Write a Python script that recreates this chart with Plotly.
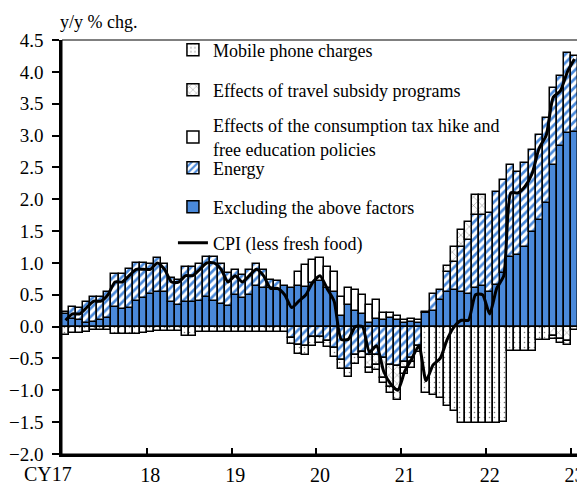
import plotly.graph_objects as go

# Monthly data, Jan 2017 .. Jan 2023 (73 months); x = month index
month_idx = list(range(73))

excluding = [0.20, 0.12, 0.10, 0.05, 0.08, 0.10, 0.13, 0.31, 0.28, 0.30, 0.40, 0.45,
             0.52, 0.55, 0.55, 0.38, 0.34, 0.39, 0.39, 0.41, 0.47, 0.41, 0.36, 0.33,
             0.50, 0.45, 0.50, 0.63, 0.60, 0.60, 0.58, 0.64, 0.60, 0.64, 0.62, 0.68,
             0.72, 0.60, 0.55, 0.16, 0.34, 0.25, 0.20, 0.05, 0.12, 0.10, 0.13, 0.10,
             0.06, 0.08, 0.06, 0.21, 0.24, 0.42, 0.55, 0.57, 0.55, 0.52, 0.60, 0.63,
             0.55, 0.65, 0.84, 1.10, 1.12, 1.25, 1.49, 1.67, 1.94, 2.54, 2.83, 3.04,
             3.05]

energy = [0.03, 0.19, 0.19, 0.34, 0.38, 0.36, 0.42, 0.52, 0.55, 0.60, 0.60, 0.55,
          0.46, 0.52, 0.43, 0.38, 0.39, 0.55, 0.55, 0.58, 0.63, 0.69, 0.63, 0.51,
          0.39, 0.36, 0.39, 0.36, 0.29, 0.13, 0.13, 0.00, -0.18, -0.29, -0.30, -0.16,
          -0.16, -0.22, -0.34, -0.53, -0.66, -0.45, -0.40, -0.45, -0.45, -0.50, -0.60, -0.62,
          -0.55, -0.50, -0.30, 0.02, 0.28, 0.16, 0.30, 0.45, 0.70, 0.84, 1.15, 1.13,
          1.23, 1.47, 1.46, 1.44, 1.31, 1.32, 1.28, 1.34, 1.33, 1.20, 1.10, 1.25,
          1.20]

tax_education = [0, 0, 0, 0, 0, 0, 0, 0, 0, 0, 0, 0,
                 0, 0, 0, 0, 0, 0, 0, 0, 0, 0, 0, 0,
                 0, 0, 0, 0, 0, 0, 0, 0, 0, 0.21, 0.35, 0.36,
                 0.35, 0.34, 0.31, 0.31, 0.26, 0.33, 0.30, 0.29, 0.30, 0.12, 0.08, 0.06,
                 0.04, 0.04, 0.04, 0, 0, 0, 0, 0, 0, 0, 0, 0,
                 0, 0, 0, 0, 0, 0, 0, 0, 0, 0, 0, 0,
                 0]

travel = [0, 0, 0, 0, 0, 0, 0, 0, 0, 0, 0, 0,
          0, 0, 0, 0, 0, 0, 0, 0, 0, 0, 0, 0,
          0, 0, 0, 0, 0, 0, 0, 0, 0, 0, 0, 0,
          0, 0, 0, 0, 0, 0, 0, -0.20, -0.15, -0.30, -0.35, -0.38,
          -0.10, -0.05, 0, 0, 0, 0, 0.10, 0.23, 0.26, 0.29, 0.31, 0.31,
          0, 0, 0, 0, 0, 0, 0, 0, 0, -0.15, -0.20, -0.22,
          -0.05]

mobile = [-0.13, -0.10, -0.10, -0.08, -0.06, -0.05, -0.05, -0.12, -0.12, -0.12, -0.12, -0.10,
          -0.08, -0.07, -0.07, -0.07, -0.07, -0.14, -0.14, -0.08, -0.08, -0.08, -0.08, -0.08,
          -0.08, -0.08, -0.08, -0.08, -0.08, -0.08, -0.08, -0.08, -0.10, -0.14, -0.14, -0.14,
          -0.10, -0.10, -0.14, -0.13, -0.13, -0.13, -0.10, -0.08, -0.08, -0.09, -0.10, -0.15,
          -0.10, -0.10, -0.10, -1.05, -1.08, -1.12, -1.25, -1.33, -1.52, -1.52, -1.52, -1.52,
          -1.52, -1.52, -1.50, -0.39, -0.39, -0.39, -0.39, -0.21, -0.21, -0.05, -0.05, -0.07,
          0]

cpi = [0.1, 0.2, 0.2, 0.3, 0.4, 0.4, 0.5, 0.7, 0.7, 0.8, 0.9, 0.9,
       0.9, 1.0, 0.9, 0.7, 0.7, 0.8, 0.8, 0.9, 1.0, 1.0, 0.9, 0.7,
       0.8, 0.7, 0.8, 0.9, 0.8, 0.6, 0.6, 0.5, 0.3, 0.4, 0.5, 0.7,
       0.8, 0.6, 0.4, -0.2, -0.2, 0.0, 0.0, -0.4, -0.3, -0.7, -0.9, -1.0,
       -0.7, -0.5, -0.3, -0.85, -0.6, -0.5, -0.2, 0.0, 0.1, 0.1, 0.5, 0.5,
       0.2, 0.6, 0.8, 2.1, 2.1, 2.2, 2.4, 2.8, 3.0, 3.6, 3.7, 4.0,
       4.2]

year_label_pos = [12, 24, 36, 48, 60, 72]
year_labels = ["18", "19", "20", "21", "22", "23"]
year_bounds = [11.5, 23.5, 35.5, 47.5, 59.5, 71.5]

BLUE = "#4A89DA"
FONT = "Liberation Serif"

# the page body adds an 8px offset; size the figure so it fills the 585x489 window
PAGE_OFF = 8
FIG_W, FIG_H = 585 - PAGE_OFF, 489 - PAGE_OFF
ML, MT, MR, MB = 62 - PAGE_OFF, 40 - PAGE_OFF, 7, 35


def nz(vals):
    return [v if v != 0 else None for v in vals]


outline = dict(color="black", width=1.5)
fig = go.Figure()

fig.add_trace(go.Bar(
    x=month_idx, y=nz(excluding), name="Excluding the above factors",
    marker=dict(color=BLUE, line=outline), legend="legend5"))
fig.add_trace(go.Bar(
    x=month_idx, y=nz(energy), name="Energy",
    marker=dict(color=BLUE, line=outline,
                pattern=dict(shape="/", fillmode="replace", fgcolor=BLUE,
                             bgcolor="white", size=6, solidity=0.45)),
    legend="legend4"))
fig.add_trace(go.Bar(
    x=month_idx, y=nz(tax_education),
    name="Effects of the consumption tax hike and<br>free education policies",
    marker=dict(color="white", line=outline), legend="legend3"))
fig.add_trace(go.Bar(
    x=month_idx, y=nz(travel), name="Effects of travel subsidy programs",
    marker=dict(color="white", line=outline,
                pattern=dict(shape="x", fillmode="overlay", fgcolor="black",
                             bgcolor="white", size=6, solidity=0.15)),
    legend="legend2"))
fig.add_trace(go.Bar(
    x=month_idx, y=nz(mobile), name="Mobile phone charges",
    marker=dict(color="white", line=outline,
                pattern=dict(shape=".", fillmode="overlay", fgcolor="black",
                             bgcolor="white", size=5, solidity=0.08)),
    legend="legend"))
fig.add_trace(go.Scatter(
    x=month_idx, y=cpi, mode="lines", name="CPI (less fresh food)",
    line=dict(color="black", width=3, shape="spline", smoothing=0.6),
    legend="legend6"))

PLOT_TOP, PLOT_BOTTOM = 40, 454   # window pixels of the plot area


def ly(py):
    return (PLOT_BOTTOM - py) / (PLOT_BOTTOM - PLOT_TOP)


def legend_at(py):
    return dict(x=0.215, y=ly(py), xanchor="left", yanchor="middle",
                bgcolor="rgba(0,0,0,0)", font=dict(family=FONT, size=18),
                itemclick=False, itemdoubleclick=False, maxheight=400)


fig.update_layout(
    width=FIG_W, height=FIG_H,
    margin=dict(l=ML, r=MR, t=MT, b=MB),
    paper_bgcolor="white", plot_bgcolor="white",
    barmode="relative", bargap=0,
    font=dict(family=FONT, size=18, color="black"),
    showlegend=True,
    legend=legend_at(50),
    legend2=legend_at(90),
    legend3=legend_at(137),
    legend4=legend_at(168),
    legend5=legend_at(207),
    legend6=legend_at(243),
    xaxis=dict(range=[-0.5, 72.5], tickmode="array", tickvals=year_label_pos,
               ticktext=year_labels, ticks="", showgrid=False, zeroline=False,
               showline=True, linecolor="black", linewidth=2.5, automargin=False,
               tickfont=dict(family=FONT, size=20), ticklabelstandoff=1,
               minor=dict(tickmode="array", tickvals=year_bounds, ticks="inside",
                          ticklen=6, tickwidth=1.5, tickcolor="black", showgrid=False)),
    yaxis=dict(range=[-2.0, 4.5], dtick=0.5, tick0=0, tickformat=".1f",
               ticks="outside", ticklen=7, tickwidth=1.5, tickcolor="black",
               showgrid=False, zeroline=False, showline=True, linecolor="black",
               linewidth=2.5, automargin=False, tickfont=dict(family=FONT, size=19),
               ticklabelstandoff=5),
    shapes=[dict(type="rect", xref="paper", yref="paper", x0=0, x1=1, y0=0, y1=1,
                 line=dict(color="black", width=1), layer="above")],
    annotations=[
        dict(text="y/y % chg.", xref="paper", yref="paper", x=0, y=1,
             xanchor="left", yanchor="middle", xshift=-4, yshift=18,
             showarrow=False, font=dict(family=FONT, size=18)),
        dict(text="CY17", xref="x", yref="paper", x=-0.5, y=0,
             xanchor="center", yanchor="middle", xshift=-14, yshift=-20,
             showarrow=False, font=dict(family=FONT, size=20)),
    ],
)

fig.write_html("out.html")
